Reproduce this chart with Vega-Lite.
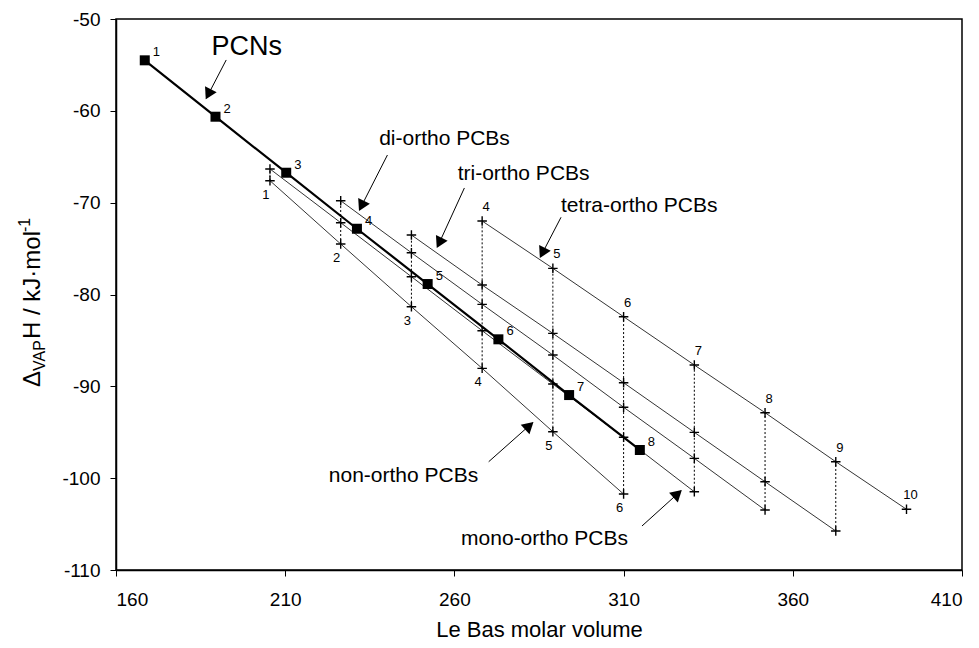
{
  "$schema": "https://vega.github.io/schema/vega-lite/v6.json",
  "width": 846,
  "height": 551,
  "autosize": {"type": "none"},
  "padding": {"left": 116, "top": 19, "right": 17, "bottom": 78},
  "background": "white",
  "config": {
    "font": "Liberation Sans",
    "view": {"stroke": "black", "strokeWidth": 1.5},
    "axis": {
      "grid": false,
      "domainColor": "black",
      "domainWidth": 1.5,
      "tickColor": "black",
      "labelColor": "black",
      "titleColor": "black",
      "labelFont": "Liberation Sans",
      "titleFont": "Liberation Sans",
      "titleFontWeight": "normal"
    }
  },
  "datasets": {
    "pts": [
      {"series": "PCN", "n": 1, "x": 168.5, "y": -54.5},
      {"series": "PCN", "n": 2, "x": 189.4, "y": -60.64},
      {"series": "PCN", "n": 3, "x": 210.3, "y": -66.74},
      {"series": "PCN", "n": 4, "x": 231.2, "y": -72.84},
      {"series": "PCN", "n": 5, "x": 252.1, "y": -78.86},
      {"series": "PCN", "n": 6, "x": 273.0, "y": -84.88},
      {"series": "PCN", "n": 7, "x": 293.9, "y": -90.95},
      {"series": "PCN", "n": 8, "x": 314.8, "y": -96.93},
      {"series": "non-ortho", "n": 1, "x": 205.5, "y": -67.61},
      {"series": "non-ortho", "n": 2, "x": 226.4, "y": -74.5},
      {"series": "non-ortho", "n": 3, "x": 247.3, "y": -81.33},
      {"series": "non-ortho", "n": 4, "x": 268.2, "y": -88.04},
      {"series": "non-ortho", "n": 5, "x": 289.1, "y": -94.94},
      {"series": "non-ortho", "n": 6, "x": 310.0, "y": -101.73},
      {"series": "mono-ortho", "n": 1, "x": 205.5, "y": -66.33},
      {"series": "mono-ortho", "n": 2, "x": 226.4, "y": -72.18},
      {"series": "mono-ortho", "n": 3, "x": 247.3, "y": -78.06},
      {"series": "mono-ortho", "n": 4, "x": 268.2, "y": -83.94},
      {"series": "mono-ortho", "n": 5, "x": 289.1, "y": -89.75},
      {"series": "mono-ortho", "n": 6, "x": 310.0, "y": -95.55},
      {"series": "mono-ortho", "n": 7, "x": 330.9, "y": -101.48},
      {"series": "di-ortho", "n": 2, "x": 226.4, "y": -69.79},
      {"series": "di-ortho", "n": 3, "x": 247.3, "y": -75.45},
      {"series": "di-ortho", "n": 4, "x": 268.2, "y": -81.07},
      {"series": "di-ortho", "n": 5, "x": 289.1, "y": -86.59},
      {"series": "di-ortho", "n": 6, "x": 310.0, "y": -92.28},
      {"series": "di-ortho", "n": 7, "x": 330.9, "y": -97.84},
      {"series": "di-ortho", "n": 8, "x": 351.8, "y": -103.47},
      {"series": "tri-ortho", "n": 3, "x": 247.3, "y": -73.52},
      {"series": "tri-ortho", "n": 4, "x": 268.2, "y": -78.97},
      {"series": "tri-ortho", "n": 5, "x": 289.1, "y": -84.23},
      {"series": "tri-ortho", "n": 6, "x": 310.0, "y": -89.61},
      {"series": "tri-ortho", "n": 7, "x": 330.9, "y": -95.01},
      {"series": "tri-ortho", "n": 8, "x": 351.8, "y": -100.39},
      {"series": "tri-ortho", "n": 9, "x": 372.7, "y": -105.75},
      {"series": "tetra-ortho", "n": 4, "x": 268.2, "y": -72.0},
      {"series": "tetra-ortho", "n": 5, "x": 289.1, "y": -77.15},
      {"series": "tetra-ortho", "n": 6, "x": 310.0, "y": -82.42},
      {"series": "tetra-ortho", "n": 7, "x": 330.9, "y": -87.68},
      {"series": "tetra-ortho", "n": 8, "x": 351.8, "y": -92.87},
      {"series": "tetra-ortho", "n": 9, "x": 372.7, "y": -98.21},
      {"series": "tetra-ortho", "n": 10, "x": 393.6, "y": -103.39}
    ],
    "notes": [
      {"text": "PCNs", "x": 188.23, "y": -53.92},
      {"text": "di-ortho PCBs", "x": 237.76, "y": -63.72},
      {"text": "tri-ortho PCBs", "x": 260.97, "y": -67.53},
      {"text": "tetra-ortho PCBs", "x": 291.51, "y": -70.98},
      {"text": "non-ortho PCBs", "x": 222.88, "y": -100.39},
      {"text": "mono-ortho PCBs", "x": 261.98, "y": -107.28}
    ],
    "arrows": [
      {"x": 192.57, "y": -54.46, "x2": 186.67, "y2": -58.64},
      {"x": 240.21, "y": -64.81, "x2": 231.94, "y2": -70.8},
      {"x": 262.95, "y": -68.4, "x2": 254.97, "y2": -74.83},
      {"x": 291.51, "y": -71.59, "x2": 285.4, "y2": -75.92},
      {"x": 270.13, "y": -98.21, "x2": 283.12, "y2": -93.96},
      {"x": 315.43, "y": -105.21, "x2": 326.95, "y2": -101.37}
    ],
    "heads": [
      {"dir": "down", "x": 187.28, "y": -58.2},
      {"dir": "down", "x": 232.55, "y": -70.36},
      {"dir": "down", "x": 255.53, "y": -74.38},
      {"dir": "down", "x": 286.01, "y": -75.48},
      {"dir": "up", "x": 282.13, "y": -94.29},
      {"dir": "up", "x": 325.97, "y": -101.7}
    ],
    "ytitle": [
      {"part": "Δ", "x": 137.44, "y": -90.07},
      {"part": "VAP", "x": 137.44, "y": -90.07},
      {"part": "H / kJ·mol", "x": 137.44, "y": -90.07},
      {"part": "-1", "x": 137.44, "y": -90.07}
    ]
  },
  "encoding": {
    "x": {
      "field": "x",
      "type": "quantitative",
      "scale": {"domain": [160, 410], "nice": false, "zero": false},
      "axis": {
        "values": [160, 210, 260, 310, 360, 410],
        "title": "Le Bas molar volume",
        "labelExpr": "datum.value + ''",
        "labelFontSize": 19,
        "titleFontSize": 22,
        "tickSize": 6,
        "labelPadding": 14,
        "titlePadding": 10
      }
    },
    "y": {
      "field": "y",
      "type": "quantitative",
      "scale": {"domain": [-110, -50], "nice": false, "zero": false},
      "axis": {
        "values": [-110, -100, -90, -80, -70, -60, -50],
        "title": null,
        "labelExpr": "datum.value + ''",
        "labelFontSize": 19,
        "tickSize": 6,
        "labelPadding": 10
      }
    }
  },
  "layer": [
    {
      "data": {"name": "pts"},
      "transform": [{"filter": "datum.series !== 'PCN'"}],
      "mark": {"type": "rule", "strokeDash": [2, 2], "strokeWidth": 1, "color": "black"},
      "encoding": {
        "y": {"aggregate": "min", "field": "y", "type": "quantitative", "title": null},
        "y2": {"aggregate": "max", "field": "y"}
      }
    },
    {
      "data": {"name": "pts"},
      "transform": [{"filter": "datum.series !== 'PCN'"}],
      "mark": {"type": "line", "strokeWidth": 0.8, "color": "black"},
      "encoding": {"detail": {"field": "series"}}
    },
    {
      "data": {"name": "pts"},
      "transform": [{"filter": "datum.series === 'PCN'"}],
      "mark": {"type": "line", "strokeWidth": 2.2, "color": "black"},
      "encoding": {}
    },
    {
      "data": {"name": "pts"},
      "transform": [{"filter": "datum.series !== 'PCN'"}],
      "mark": {"type": "point", "shape": "M-1,0H1M0,-1V1", "size": 90, "filled": false, "stroke": "black", "strokeWidth": 1.4, "opacity": 1},
      "encoding": {}
    },
    {
      "data": {"name": "pts"},
      "transform": [{"filter": "datum.series === 'PCN'"}],
      "mark": {"type": "point", "shape": "square", "size": 100, "filled": true, "color": "black", "opacity": 1},
      "encoding": {}
    },
    {
      "data": {"name": "pts"},
      "transform": [{"filter": "datum.series === 'PCN'"}],
      "mark": {"type": "text", "align": "left", "baseline": "middle", "dx": 8, "dy": -8, "fontSize": 13, "color": "black"},
      "encoding": {"text": {"field": "n"}}
    },
    {
      "data": {"name": "pts"},
      "transform": [{"filter": "datum.series === 'non-ortho'"}],
      "mark": {"type": "text", "align": "center", "baseline": "middle", "dx": -4, "dy": 14, "fontSize": 13, "color": "black"},
      "encoding": {"text": {"field": "n"}}
    },
    {
      "data": {"name": "pts"},
      "transform": [{"filter": "datum.series === 'tetra-ortho'"}],
      "mark": {"type": "text", "align": "center", "baseline": "middle", "dx": 4, "dy": -14, "fontSize": 13, "color": "black"},
      "encoding": {"text": {"field": "n"}}
    },
    {
      "data": {"name": "notes"},
      "transform": [{"filter": "datum.text === 'PCNs'"}],
      "mark": {"type": "text", "align": "left", "baseline": "alphabetic", "fontSize": 27, "color": "black"},
      "encoding": {"text": {"field": "text"}}
    },
    {
      "data": {"name": "notes"},
      "transform": [{"filter": "datum.text !== 'PCNs'"}],
      "mark": {"type": "text", "align": "left", "baseline": "alphabetic", "fontSize": 21, "color": "black"},
      "encoding": {"text": {"field": "text"}}
    },
    {
      "data": {"name": "arrows"},
      "mark": {"type": "rule", "strokeWidth": 1, "color": "black"},
      "encoding": {"x2": {"field": "x2"}, "y2": {"field": "y2"}}
    },
    {
      "data": {"name": "heads"},
      "transform": [{"filter": "datum.dir === 'down'"}],
      "mark": {"type": "point", "shape": "triangle-up", "angle": 206.5, "size": 170, "filled": true, "color": "black", "opacity": 1},
      "encoding": {}
    },
    {
      "data": {"name": "heads"},
      "transform": [{"filter": "datum.dir === 'up'"}],
      "mark": {"type": "point", "shape": "triangle-up", "angle": 48, "size": 170, "filled": true, "color": "black", "opacity": 1},
      "encoding": {}
    },
    {
      "data": {"name": "ytitle"},
      "transform": [{"filter": "datum.part === 'Δ'"}],
      "mark": {"type": "text", "angle": 270, "align": "left", "baseline": "alphabetic", "fontSize": 24, "color": "black"},
      "encoding": {"text": {"field": "part"}}
    },
    {
      "data": {"name": "ytitle"},
      "transform": [{"filter": "datum.part === 'VAP'"}],
      "mark": {"type": "text", "angle": 270, "align": "left", "baseline": "alphabetic", "fontSize": 16, "dx": 16, "dy": 5, "color": "black"},
      "encoding": {"text": {"field": "part"}}
    },
    {
      "data": {"name": "ytitle"},
      "transform": [{"filter": "datum.part === 'H / kJ·mol'"}],
      "mark": {"type": "text", "angle": 270, "align": "left", "baseline": "alphabetic", "fontSize": 24, "dx": 48, "color": "black"},
      "encoding": {"text": {"field": "part"}}
    },
    {
      "data": {"name": "ytitle"},
      "transform": [{"filter": "datum.part === '-1'"}],
      "mark": {"type": "text", "angle": 270, "align": "left", "baseline": "alphabetic", "fontSize": 16, "dx": 155, "dy": -10, "color": "black"},
      "encoding": {"text": {"field": "part"}}
    }
  ]
}
